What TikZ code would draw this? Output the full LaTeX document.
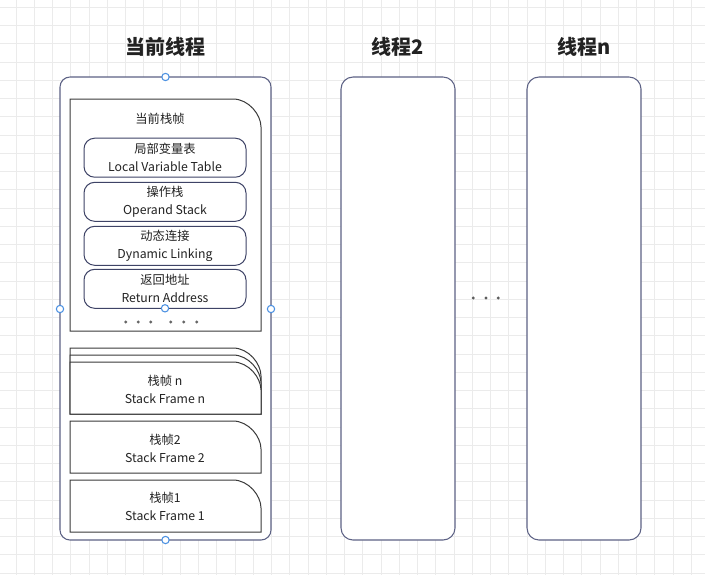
\documentclass[tikz,border=0pt]{standalone}
\usepackage{fontspec}
\setmainfont{Noto Sans CJK SC}
\definecolor{gridgray}{HTML}{EBEBEB}
\definecolor{threadline}{HTML}{5D6285}
\definecolor{boxline}{HTML}{3E4366}
\definecolor{cardline}{HTML}{3A3A3A}
\definecolor{handle}{HTML}{4A90E2}
\definecolor{txt}{HTML}{222222}
\definecolor{dotgray}{HTML}{666666}

% card shape: rectangle whose top-right corner is a wide curve
% args: [style] x1 y1 x2 y2 (pixel units, y grows downward)
\newcommand\drawcard[5][]{%
  \draw[cardbox,#1] (#2,#5) -- (#2,#3) -- ({#4-28},#3)
    .. controls ({#4-12.5},#3) and (#4,{#3+15.5}) .. (#4,{#3+28})
    -- (#4,#5) -- cycle;}

\begin{document}
\begin{tikzpicture}[x=0.75pt,y=-0.75pt,
  every node/.style={inner sep=0pt, outer sep=0pt},
  gridline/.style={draw=gridgray, line width=0.75pt},
  threadbox/.style={draw=threadline, fill=white, line width=0.8pt,
    rounded corners=9pt, minimum width=85.5pt, minimum height=347.25pt},
  mainbox/.style={threadbox, rounded corners=7.5pt, minimum width=158.25pt},
  slotbox/.style={draw=boxline, fill=white, line width=0.75pt,
    rounded corners=8pt, minimum width=121.5pt, minimum height=29.25pt},
  cardbox/.style={draw=cardline, fill=white, line width=0.75pt},
  title/.style={font=\fontsize{15}{18}\selectfont\bfseries, text=txt},
  label/.style={font=\fontsize{9.2}{13.5}\selectfont, text=txt, align=center},
  handlept/.style={circle, draw=handle, fill=white, line width=0.8pt, minimum size=5.5pt},
  smalldot/.style={circle, fill=dotgray, minimum size=2.4pt},
]
\useasboundingbox (0,0) rectangle (705,575);
\fill[white] (0,0) rectangle (705,575);

% background grid
\foreach \i in {0,...,37} {
  \draw[gridline] ({16+18.25*\i},0) -- ({16+18.25*\i},575);
}
\foreach \j in {0,...,31} {
  \draw[gridline] (0,{7.3+18.25*\j}) -- (705,{7.3+18.25*\j});
}

% thread titles
\node[title] (t1) at (165,47) {当前线程};
\node[title] (t2) at (398,47) {线程2};
\node[title] (tn) at (584,47) {线程n};

% thread boxes
\node[mainbox] (cur) at (165.5,308.5) {};
\node[threadbox] (th2) at (398,308.5) {};
\node[threadbox] (thn) at (584,308.5) {};

% current stack frame
\drawcard{70}{99}{261}{331}
\node[label] (curf) at (160,119) {当前栈帧};

\node[slotbox] (lvt) at (165,157.7) {};
\node[label] at (lvt) {局部变量表\\Local Variable Table};
\node[slotbox] (ops) at (165,201.8) {};
\node[label] at (ops) {操作栈\\Operand Stack};
\node[slotbox] (dyn) at (165,245.8) {};
\node[label] at (dyn) {动态连接\\Dynamic Linking};
\node[slotbox] (ret) at (165,288.8) {};
\node[label] at (ret) {返回地址\\Return Address};

\foreach \x [count=\k] in {125.7,138.3,150.7,170.7,183.7,196.7}
  \node[smalldot] (fd\k) at (\x,322) {};

% stacked frames n
\drawcard{70}{348}{261}{414}
\drawcard{70}{355}{261}{414}
\drawcard{70}{362}{261}{414}
\node[label] (sfn) at (165,389) {栈帧 n\\Stack Frame n};

\drawcard{70}{421}{261}{473}
\node[label] (sf2) at (165,448) {栈帧2\\Stack Frame 2};

\drawcard{70}{480}{261}{532}
\node[label] (sf1) at (165,506) {栈帧1\\Stack Frame 1};

% dots between threads
\foreach \x [count=\k] in {473.3,486,498.3}
  \node[smalldot, fill=dotgray!90!black] (md\k) at (\x,298) {};

% selection handles
\node[handlept] (hN) at (cur.north) {};
\node[handlept] (hS) at (cur.south) {};
\node[handlept] (hW) at (cur.west |- 0,309) {};
\node[handlept] (hE) at (cur.east |- 0,309) {};
\node[handlept] (hR) at (ret.south) {};
\end{tikzpicture}
\end{document}
